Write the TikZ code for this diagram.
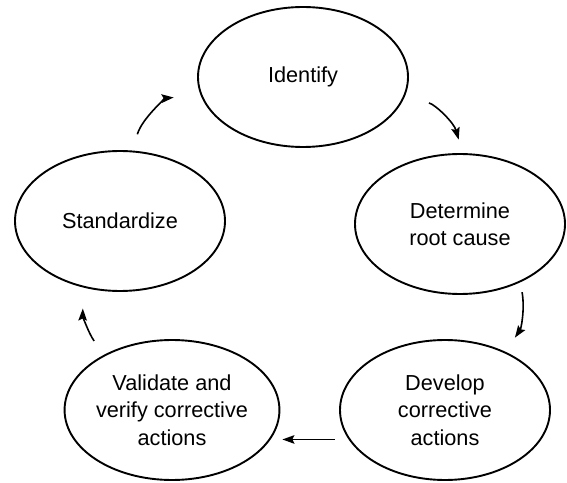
\documentclass[tikz,border=0pt]{standalone}
\usepackage{fontspec}
\setmainfont{Liberation Sans}
\usetikzlibrary{shapes.geometric,arrows.meta}
\begin{document}
\begin{tikzpicture}[x=1pt,y=1pt]
\tikzstyle{every node}+=[inner sep=0pt]
\tikzstyle{ell}=[draw,ellipse,line width=1.9pt,minimum width=210pt,minimum height=140pt,align=center,font=\fontsize{21.7}{27.5}\selectfont]
\tikzstyle{cyc}=[line width=1.6pt,-{Stealth[length=12pt,width=8.5pt,inset=2pt]}]
\useasboundingbox (0,0) rectangle (567,482);
\node[ell] (idf) at (303,405) {Identify};
\node[ell] (det) at (460,258) {Determine\\root cause};
\node[ell] (dev) at (445,72) {Develop\\corrective\\actions};
\node[ell] (val) at (172,72) {Validate and\\verify corrective\\actions};
\node[ell] (std) at (120,261) {Standardize};
\draw[cyc,shorten <=17pt,shorten >=27pt] (std.80) to[bend left=34] (idf.190);
\draw[cyc,shorten <=25pt,shorten >=14pt] (idf.-11) to[bend left=30] (det.88);
\draw[cyc,shorten <=10pt,shorten >=17pt] (det.-44) to[bend left=22] (dev.44);
\draw[cyc,shorten <=14pt,shorten >=2pt] (dev.197.5) -- (val.east |- dev.197.5);
\draw[cyc,shorten <=17pt,shorten >=21pt] (val.141) to[bend left=18] (std.241);
\end{tikzpicture}
\end{document}
